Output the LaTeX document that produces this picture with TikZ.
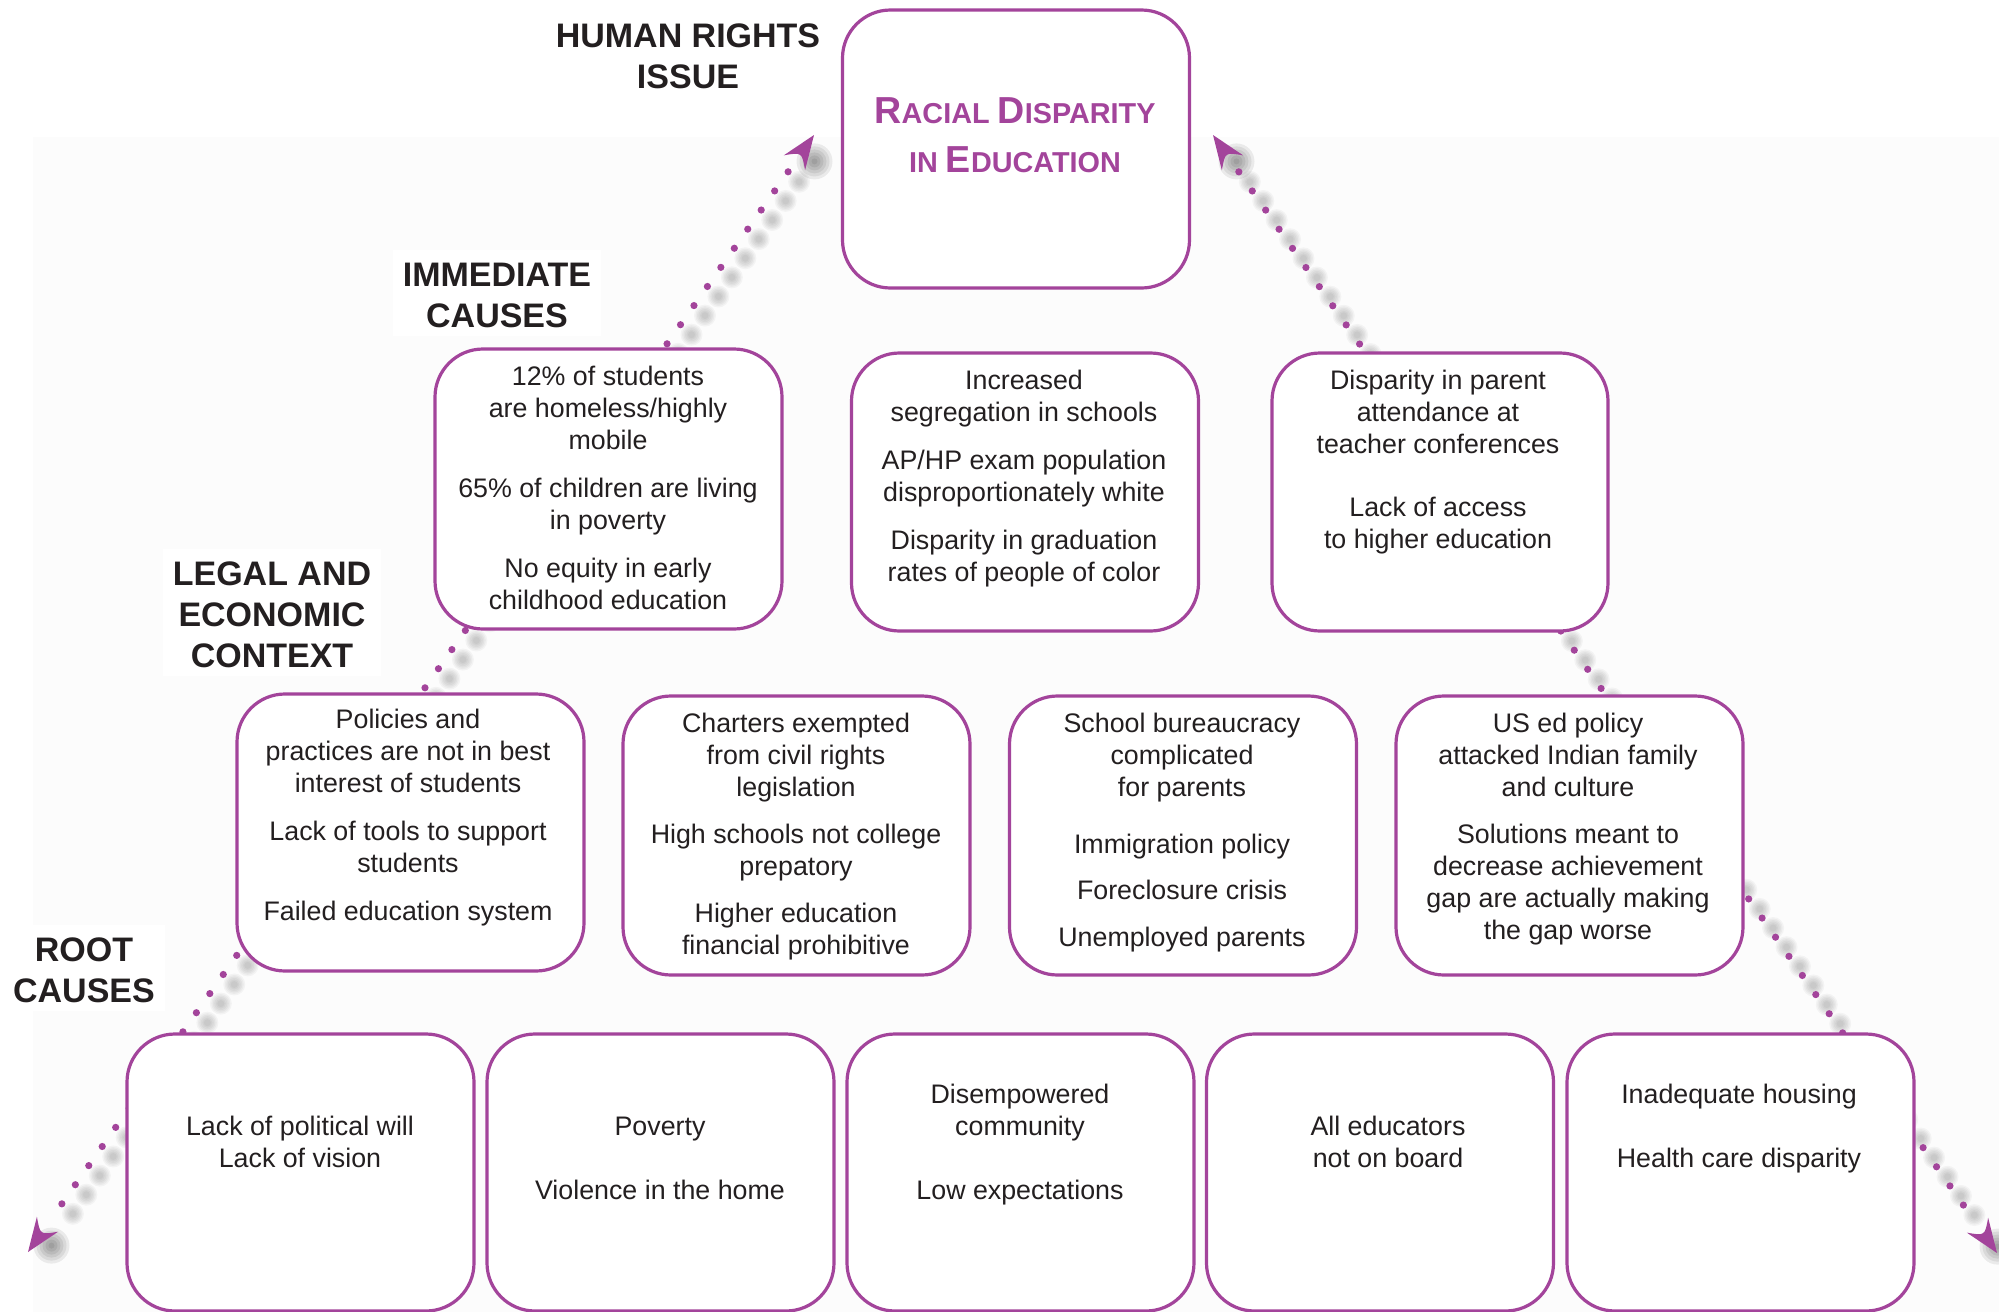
\documentclass[tikz,border=0pt]{standalone}
\usepackage{fontspec}
\setmainfont{Liberation Sans}
\usetikzlibrary{calc}

\definecolor{plum}{RGB}{163,68,155}
\definecolor{ink}{RGB}{35,31,32}
\definecolor{haze}{RGB}{252,252,252}

% large initial capital inside the small-caps title
\newcommand\capbig[1]{{\fontsize{18.8}{24.5}\selectfont #1}}

% arrowhead: #1 tip coordinate, #2,#3 direction vector, #4,#5 normal vector (pt)
\newcommand\tiphead[5]{%
  \begin{scope}[shift={(#1)}, x={(#2pt,#3pt)}, y={(#4pt,#5pt)}]
    \fill[plum] (0,0) -- (-34,-13) .. controls (-21,0) .. (-34,13) -- cycle;
  \end{scope}}

\tikzset{
  cbox/.style={draw=plum, line width=1.6pt, fill=white, rounded corners=24pt,
    inner sep=0pt, minimum width=173.5pt, minimum height=138.5pt},
  txt/.style={font=\fontsize{13.4}{16}\selectfont, text=ink, align=center,
    inner sep=0pt, anchor=north},
  lvl/.style={font=\fontsize{17}{20.5}\selectfont\bfseries, text=ink,
    align=center, fill=white, inner xsep=5pt, inner ysep=4pt, anchor=north},
  ttl/.style={font=\fontsize{14.4}{24.5}\selectfont\bfseries, text=plum,
    align=center, inner sep=0pt, anchor=north},
  dotfill/.style={fill=plum},
  dotshadow/.style={fill=black, opacity=0.035},
  tipshadow/.style={fill=black, opacity=0.07},
}

\begin{document}
\begin{tikzpicture}[x=0.5pt, y=-0.5pt]
\useasboundingbox (0,0) rectangle (1999,1312);
\fill[haze] (33,137) rectangle (1999,1312);

% ends of the two long dotted connectors
\coordinate (tl) at (814,135);
\coordinate (bl) at (28,1252);
\coordinate (tr) at (1213,135);
\coordinate (br) at (1997,1253);

% soft shadows of the dots
\foreach \a/\b in {tl/bl, tr/br} {
  \foreach \k in {0,...,54} {
    \pgfmathsetmacro\dd{22.5+11.685*\k}
    \coordinate (p) at ($(\a)!\dd pt!(\b)+(11,10)$);
    \foreach \r in {11,9.5,8,6.5,5,3.5}
      \fill[dotshadow] (p) circle (\r);
  }
}
% soft shadows of the arrowheads
\foreach \x/\y in {814.5/161.4, 1236.5/161.4, 51.5/1245.6, 1997.5/1246.6} {
  \foreach \r in {18,15,12,9,6,3}
    \fill[tipshadow] (\x,\y) circle (\r);
}

% dotted connectors
\foreach \a/\b in {tl/bl, tr/br} {
  \foreach \k in {0,...,54} {
    \pgfmathsetmacro\dd{22.5+11.685*\k}
    \fill[dotfill] ($(\a)!\dd pt!(\b)$) circle (3.6);
  }
}
\tiphead{tl}{0.2877}{0.409}{0.409}{-0.2877}
\tiphead{tr}{-0.2871}{0.4094}{0.4094}{0.2871}
\tiphead{bl}{-0.2877}{-0.409}{-0.409}{0.2877}
\tiphead{br}{0.2871}{-0.4094}{-0.4094}{-0.2871}

% boxes
\node[cbox, minimum height=139pt] (top) at (1016,149) {};
\node[cbox, minimum height=140pt] (i1) at (608.5,489) {};
\node[cbox, minimum height=139pt] (i2) at (1025,492) {};
\node[cbox, minimum height=139pt, minimum width=168pt] (i3) at (1440,492) {};
\node[cbox] (l1) at (410.5,832.5) {};
\node[cbox, minimum height=139.5pt] (l2) at (796.5,835.5) {};
\node[cbox, minimum height=139.5pt] (l3) at (1183,835.5) {};
\node[cbox, minimum height=139.5pt] (l4) at (1569.5,835.5) {};
\node[cbox] (r1) at (300.5,1172.5) {};
\node[cbox] (r2) at (660.5,1172.5) {};
\node[cbox] (r3) at (1020.5,1172.5) {};
\node[cbox] (r4) at (1380,1172.5) {};
\node[cbox] (r5) at (1740.5,1172.5) {};

% title
\node[ttl] (toptext) at (1015,88.7)
  {\strut\capbig{R}ACIAL \capbig{D}ISPARITY\\IN \capbig{E}DUCATION};

% level labels
\node[lvl] (lhr) at (688,10.3) {\strut HUMAN RIGHTS\\ISSUE};
\node[lvl] (lim) at (497,249.3) {\strut IMMEDIATE\\CAUSES};
\node[lvl] (lle) at (272,548.3) {\strut LEGAL AND\\ECONOMIC\\CONTEXT};
\node[lvl] (lro) at (84,924.3) {\strut ROOT\\CAUSES};

% immediate causes
\node[txt] (i1t) at (608,362.6) {\strut 12\% of students\\are homeless/highly\\mobile\\[8pt]65\% of children are living\\in poverty\\[8pt]No equity in early\\childhood education};
\node[txt] (i2t) at (1024,366.6) {\strut Increased\\segregation in schools\\[8pt]AP/HP exam population\\disproportionately white\\[8pt]Disparity in graduation\\rates of people of color};
\node[txt] (i3t) at (1438,366.6) {\strut Disparity in parent\\attendance at\\teacher conferences\\[15.5pt]Lack of access\\to higher education};

% legal and economic context
\node[txt] (l1t) at (408,705.6) {\strut Policies and\\practices are not in best\\interest of students\\[8pt]Lack of tools to support\\students\\[8pt]Failed education system};
\node[txt] (l2t) at (796,709.6) {\strut Charters exempted\\from civil rights\\legislation\\[7.5pt]High schools not college\\prepatory\\[7.5pt]Higher education\\financial prohibitive};
\node[txt] (l3t) at (1182,709.6) {\strut School bureaucracy\\complicated\\for parents\\[12.5pt]Immigration policy\\[7pt]Foreclosure crisis\\[7.5pt]Unemployed parents};
\node[txt] (l4t) at (1568,709.6) {\strut US ed policy\\attacked Indian family\\and culture\\[7.5pt]Solutions meant to\\decrease achievement\\gap are actually making\\the gap worse};

% root causes
\node[txt] (r1t) at (300,1112.6) {\strut Lack of political will\\Lack of vision};
\node[txt] (r2t) at (660,1112.6) {\strut Poverty\\[16pt]Violence in the home};
\node[txt] (r3t) at (1020,1080.6) {\strut Disempowered\\community\\[16pt]Low expectations};
\node[txt] (r4t) at (1388,1112.6) {\strut All educators\\not on board};
\node[txt] (r5t) at (1739,1080.6) {\strut Inadequate housing\\[16pt]Health care disparity};
\end{tikzpicture}
\end{document}
